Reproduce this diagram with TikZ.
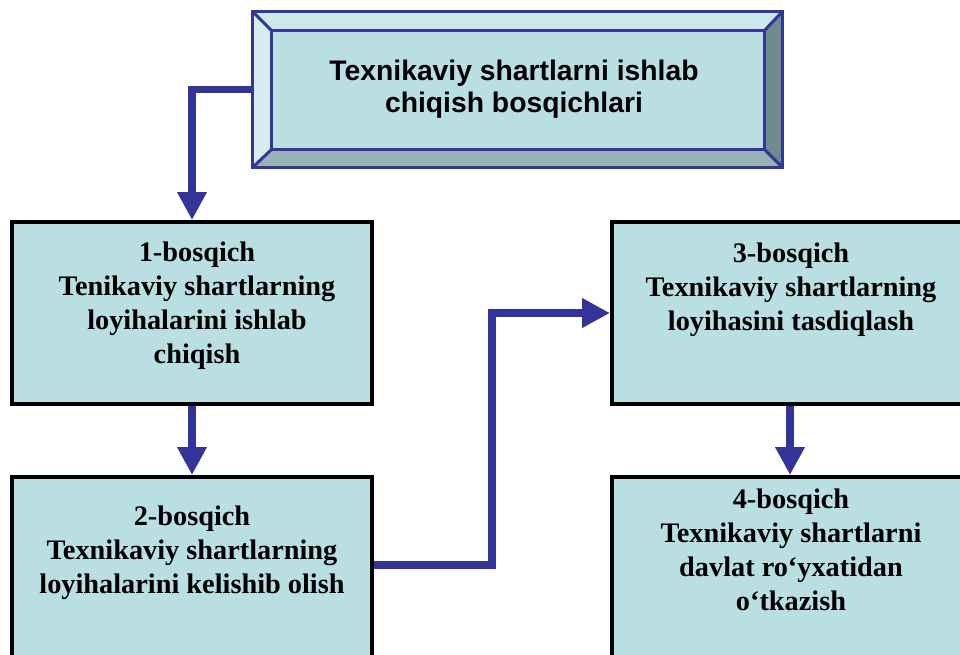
\documentclass[tikz,border=0pt]{standalone}
\usepackage{fontspec}
\setmainfont{Liberation Serif}
\newfontfamily\headfont{Liberation Sans}
\usetikzlibrary{arrows.meta,calc}

\definecolor{boxfill}{HTML}{B9DFE3}
\definecolor{bevtop}{HTML}{CBE8EB}
\definecolor{bevleft}{HTML}{D6EDEF}
\definecolor{bevright}{HTML}{6F8A8C}
\definecolor{bevbottom}{HTML}{97B3B6}
\definecolor{edgeblue}{HTML}{35359A}
\definecolor{flowblue}{HTML}{333399}

\tikzset{
  stagebox/.style={draw=black, line width=4pt, fill=boxfill, rectangle, inner sep=0pt},
  stagetext/.style={align=center, font=\bfseries\fontsize{28.3}{34}\selectfont, inner sep=0pt},
  headtext/.style={align=center, font=\headfont\bfseries\fontsize{28.3}{32}\selectfont, inner sep=0pt},
  flow/.style={draw=flowblue, line width=7.5pt, -{Triangle[length=28pt, width=28pt]}},
  bevel/.style={draw=edgeblue, line width=3pt, line join=miter}
}

\begin{document}
\begin{tikzpicture}[x=1pt, y=-1pt]
  \useasboundingbox (0,0) rectangle (960,654);
  \clip (0,0) rectangle (960,654);

  % bevelled title box
  \node[rectangle, minimum width=529pt, minimum height=155pt, inner sep=0pt] (top) at (517.5,89.5) {};
  \coordinate (oa) at (top.north west);
  \coordinate (ob) at (top.north east);
  \coordinate (oc) at (top.south east);
  \coordinate (od) at (top.south west);
  \coordinate (ia) at ($(oa)+(19,19)$);
  \coordinate (ib) at ($(ob)+(-18,19)$);
  \coordinate (ic) at ($(oc)+(-18,-18)$);
  \coordinate (id) at ($(od)+(19,-18)$);
  \fill[bevtop] (oa) -- (ob) -- (ib) -- (ia) -- cycle;
  \fill[bevleft] (oa) -- (ia) -- (id) -- (od) -- cycle;
  \fill[bevright] (ob) -- (oc) -- (ic) -- (ib) -- cycle;
  \fill[bevbottom] (od) -- (id) -- (ic) -- (oc) -- cycle;
  \fill[boxfill] (ia) rectangle (ic);
  \draw[bevel] (oa) rectangle (oc);
  \draw[bevel] (ia) rectangle (ic);
  \draw[bevel] (oa) -- (ia) (ob) -- (ib) (oc) -- (ic) (od) -- (id);
  \node[headtext] (toptext) at (514,89) {Texnikaviy shartlarni ishlab\\chiqish bosqichlari};

  % stage boxes
  \node[stagebox, minimum width=360pt, minimum height=182pt] (b1) at (192,313) {};
  \node[stagebox, minimum width=360pt, minimum height=200pt] (b2) at (192,577) {};
  \node[stagebox, minimum width=356pt, minimum height=182pt] (b3) at (790,313) {};
  \node[stagebox, minimum width=356pt, minimum height=200pt] (b4) at (790,577) {};

  \node[stagetext] (t1) at (197,306) {1-bosqich\\Tenikaviy shartlarning\\loyihalarini ishlab\\chiqish};
  \node[stagetext] (t2) at (192,553) {2-bosqich\\Texnikaviy shartlarning\\loyihalarini kelishib olish};
  \node[stagetext] (t3) at (791,290) {3-bosqich\\Texnikaviy shartlarning\\loyihasini tasdiqlash};
  \node[stagetext] (t4) at (791,550) {4-bosqich\\Texnikaviy shartlarni\\davlat ro‘yxatidan\\o‘tkazish};

  % connectors
  \draw[flow] (top.west) -| (b1.north);
  \draw[flow] (b1.south) -- (b2.north);
  \coordinate (c2) at ($(b2.north east)+(0,90)$);
  \draw[flow] (c2) -- ($(c2)+(118,0)$) |- (b3.west);
  \draw[flow] (b3.south) -- (b4.north);
\end{tikzpicture}
\end{document}
